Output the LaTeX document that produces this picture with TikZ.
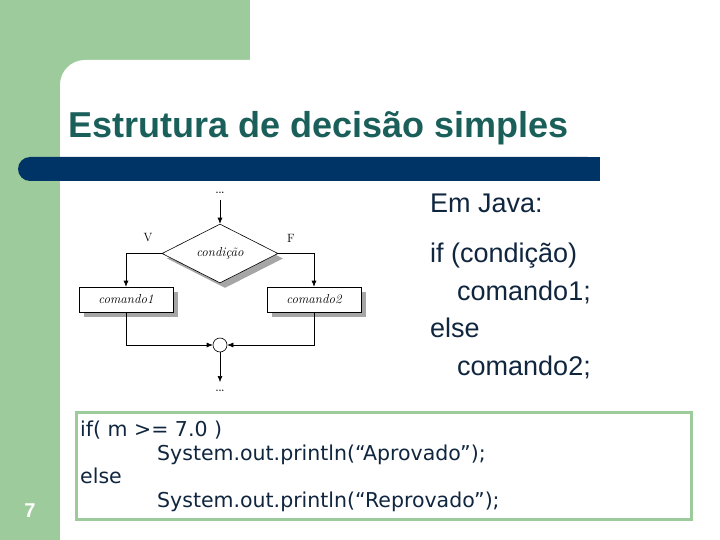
\documentclass[tikz,border=0pt]{standalone}
\usepackage{fontspec}
\usetikzlibrary{shapes.geometric,arrows.meta,shadows}
\newfontfamily\arialf{Liberation Sans}
\newfontfamily\codef{DejaVu Sans}
\definecolor{slidegreen}{HTML}{9ECB9B}
\definecolor{barnavy}{HTML}{003366}
\definecolor{titleteal}{HTML}{1A5F5A}
\definecolor{textnavy}{HTML}{10263F}
\tikzset{
  titletext/.style={anchor=base west, text=titleteal, font=\arialf\bfseries\fontsize{36}{43}\selectfont, inner sep=0},
  javatext/.style={anchor=base west, text=textnavy, font=\arialf\fontsize{27}{32}\selectfont, inner sep=0},
  codetext/.style={anchor=base west, text=textnavy, font=\codef\fontsize{20.5}{24}\selectfont, inner sep=0},
  flowshadow/.style={drop shadow={shadow xshift=5pt, shadow yshift=-5pt, fill=black!35, opacity=1}},
  flowbox/.style={draw, fill=white, line width=0.6pt, minimum width=94pt, minimum height=25pt, inner sep=0, flowshadow, font=\itshape\fontsize{13}{15}\selectfont},
  flowdiam/.style={diamond, draw, fill=white, line width=0.6pt, minimum width=116pt, minimum height=47pt, inner sep=0, flowshadow, font=\itshape\fontsize{13}{15}\selectfont},
  flowlbl/.style={font=\fontsize{12}{14}\selectfont, inner sep=0},
  dots/.style={font=\fontsize{9}{10}\selectfont\bfseries, inner sep=0},
  arr/.style={line width=0.6pt, -{Latex[length=6pt,width=5pt]}},
}
\begin{document}
\begin{tikzpicture}[x=1pt,y=-1pt]
\useasboundingbox (0,0) rectangle (720,540);
% background
\fill[slidegreen] (0,0) rectangle (720,540);
\fill[white] (60,540) [rounded corners=25pt] -- (60,60) [sharp corners] -- (720,60) -- (720,540) -- cycle;
\fill[white] (250,0) rectangle (720,61);
% blue bar
\fill[barnavy, rounded corners=12pt] (18,157) rectangle (600,181);
\fill[barnavy] (300,157) rectangle (600,181);
% title
\node[titletext] (title) at (68,138) {Estrutura de decisão simples};
% java text
\node[javatext] (emjava) at (430,213) {Em Java:};
\node[javatext] (jif) at (430,262) {if (condição)};
\node[javatext] (jc1) at (457,300) {comando1;};
\node[javatext] (jelse) at (430,337) {else};
\node[javatext] (jc2) at (457,375) {comando2;};
% flowchart
\node[dots] (dtop) at (220,193) {...};
\coordinate (start) at (220,200);
\node[flowdiam] (cond) at (220,253.5) {condição};
\node[flowbox] (c1) at (126,299.5) {comando1};
\node[flowbox] (c2) at (314,299.5) {comando2};
\node[circle, draw, fill=white, line width=0.6pt, minimum size=14pt, inner sep=0] (j) at (220,345) {};
\coordinate (fin) at (220,382);
\node[dots] (dbot) at (220,391) {...};
\node[flowlbl] (lv) at (148,238) {V};
\node[flowlbl] (lf) at (291,238) {F};
\draw[arr] (start) -- (cond.north);
\draw[arr] (cond.west) -| (c1.north);
\draw[arr] (cond.east) -| (c2.north);
\draw[arr] (c1.south) |- (j.west);
\draw[arr] (c2.south) |- (j.east);
\draw[arr] (j.south) -- (fin);
% code box
\node[draw=slidegreen, line width=3pt, minimum width=615pt, minimum height=107pt, anchor=north west, inner sep=0] (codebox) at (75,411) {};
\node[codetext] (k1) at (80,436) {if( m >= 7.0 )};
\node[codetext] (k2) at (157,460) {System.out.println(“Aprovado”);};
\node[codetext] (k3) at (80,483) {else};
\node[codetext] (k4) at (157,507) {System.out.println(“Reprovado”);};
% page number
\node[text=white, font=\arialf\bfseries\fontsize{20}{24}\selectfont, inner sep=0] (pnum) at (30,511) {7};
\end{tikzpicture}
\end{document}
